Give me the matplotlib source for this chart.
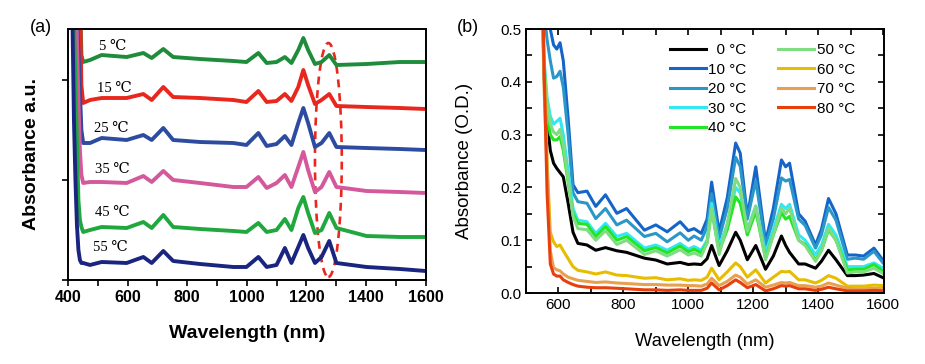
import matplotlib
matplotlib.use("Agg")
import matplotlib.pyplot as plt
from matplotlib.patches import Ellipse
from matplotlib.ticker import MultipleLocator

plt.rcParams['font.family'] = ['Liberation Sans', 'DejaVu Sans']

# ---------------- panel (a): offset spectra ----------------
wl_a = [415, 420, 425, 430, 435, 440, 445, 451, 474, 513, 597, 653, 681, 720, 753, 843,
        955, 999, 1039, 1067, 1100, 1128, 1150, 1173, 1190, 1206, 1229, 1251, 1277, 1301,
        1402, 1514, 1600]
abs_5 = [3.0, 3.0, 3.0, 3.0, 3.0, 2.9, 2.25, 2.18, 2.20, 2.25, 2.23, 2.27, 2.22, 2.31, 2.23, 2.21,
         2.19, 2.18, 2.27, 2.17, 2.18, 2.23, 2.17, 2.30, 2.42, 2.30, 2.16, 2.18, 2.25, 2.15,
         2.16, 2.18, 2.18]
abs_15 = [3.0, 3.0, 3.0, 3.0, 3.0, 2.9, 1.95, 1.77, 1.80, 1.82, 1.82, 1.86, 1.80, 1.93, 1.83, 1.82,
          1.80, 1.78, 1.89, 1.78, 1.79, 1.86, 1.79, 1.93, 2.10, 1.95, 1.76, 1.80, 1.86, 1.74,
          1.73, 1.72, 1.71]
abs_25 = [3.0, 3.0, 3.0, 2.6, 2.3, 1.9, 1.5, 1.37, 1.37, 1.42, 1.40, 1.45, 1.40, 1.52, 1.40, 1.38,
          1.37, 1.35, 1.47, 1.34, 1.36, 1.44, 1.35, 1.57, 1.72, 1.57, 1.33, 1.37, 1.47, 1.33,
          1.32, 1.31, 1.30]
abs_35 = [3.0, 3.0, 3.0, 2.4, 1.8, 1.3, 1.05, 0.97, 0.98, 0.98, 0.97, 1.04, 0.98, 1.09, 1.00, 0.97,
          0.93, 0.93, 1.03, 0.92, 0.97, 1.05, 0.93, 1.13, 1.28, 1.10, 0.88, 0.93, 1.08, 0.93,
          0.89, 0.88, 0.87]
abs_45 = [3.0, 2.6, 2.0, 1.4, 0.8, 0.6, 0.53, 0.48, 0.50, 0.53, 0.52, 0.58, 0.52, 0.65, 0.53, 0.51,
          0.49, 0.48, 0.57, 0.48, 0.50, 0.61, 0.50, 0.72, 0.83, 0.67, 0.47, 0.50, 0.67, 0.52,
          0.44, 0.43, 0.43]
abs_55 = [2.6, 1.6, 1.0, 0.55, 0.3, 0.2, 0.17, 0.17, 0.15, 0.18, 0.17, 0.23, 0.17, 0.29, 0.19, 0.16,
          0.13, 0.13, 0.23, 0.13, 0.15, 0.32, 0.17, 0.33, 0.45, 0.32, 0.17, 0.23, 0.39, 0.17,
          0.13, 0.11, 0.09]
labels_a = ['5 ℃', '15 ℃', '25 ℃', '35 ℃', '45 ℃', '55 ℃']
label_x_a = [505, 497, 487, 490, 490, 483]
label_y_a = [2.34, 1.92, 1.52, 1.10, 0.67, 0.32]
colors_a = ['#1f8c3b', '#e8281e', '#2d4ca0', '#d4589c', '#20a83e', '#1a2580']

# highlighted band around the 1275 nm peak
ell_center = (1274, 1.20)
ell_w, ell_h = 90, 2.34

# ---------------- panel (b): absorbance vs temperature ----------------
wl_b = [545, 555, 565, 575, 585, 595, 605, 615, 630, 645, 660, 688, 715, 745, 780, 810, 865, 900,
        935, 975, 1000, 1018, 1040, 1058, 1072, 1095, 1120, 1146, 1160, 1182, 1208, 1238, 1262,
        1287, 1300, 1312, 1340, 1360, 1392, 1410, 1432, 1455, 1490, 1515, 1540, 1572, 1600]
od_0 = [0.8, 0.42, 0.328, 0.27, 0.246, 0.236, 0.228, 0.22, 0.17, 0.115, 0.094, 0.091, 0.081, 0.086,
        0.08, 0.077, 0.066, 0.0625, 0.055, 0.058, 0.054, 0.055, 0.054, 0.065, 0.09, 0.052, 0.08,
        0.115, 0.10, 0.063, 0.09, 0.045, 0.07, 0.108, 0.09, 0.077, 0.055, 0.055, 0.047, 0.06,
        0.081, 0.063, 0.033, 0.033, 0.034, 0.037, 0.029]
od_10 = [0.75, 0.65, 0.56, 0.50, 0.47, 0.462, 0.474, 0.44, 0.33, 0.205, 0.19, 0.193, 0.164, 0.186,
         0.151, 0.16, 0.119, 0.129, 0.116, 0.135, 0.118, 0.122, 0.113, 0.14, 0.21, 0.116, 0.18,
         0.284, 0.265, 0.145, 0.239, 0.097, 0.16, 0.252, 0.239, 0.246, 0.15, 0.136, 0.091, 0.12,
         0.179, 0.15, 0.072, 0.072, 0.07, 0.085, 0.062]
od_20 = [0.75, 0.54, 0.48, 0.44, 0.407, 0.41, 0.42, 0.39, 0.30, 0.19, 0.173, 0.17, 0.141, 0.16,
         0.129, 0.138, 0.107, 0.113, 0.097, 0.114, 0.10, 0.108, 0.10, 0.125, 0.188, 0.103, 0.16,
         0.257, 0.24, 0.14, 0.213, 0.09, 0.14, 0.218, 0.212, 0.215, 0.14, 0.128, 0.085, 0.11,
         0.162, 0.138, 0.064, 0.066, 0.064, 0.079, 0.057]
od_30 = [0.8, 0.45, 0.37, 0.335, 0.32, 0.325, 0.331, 0.30, 0.23, 0.16, 0.138, 0.135, 0.113, 0.132,
         0.107, 0.113, 0.085, 0.091, 0.081, 0.094, 0.083, 0.088, 0.081, 0.10, 0.17, 0.088, 0.13,
         0.20, 0.19, 0.12, 0.165, 0.076, 0.12, 0.168, 0.16, 0.168, 0.11, 0.10, 0.073, 0.09,
         0.13, 0.11, 0.05, 0.05, 0.05, 0.057, 0.047]
od_40 = [0.8, 0.43, 0.34, 0.30, 0.29, 0.29, 0.296, 0.27, 0.21, 0.15, 0.132, 0.13, 0.107, 0.126,
         0.10, 0.107, 0.08, 0.086, 0.076, 0.089, 0.078, 0.083, 0.076, 0.095, 0.158, 0.079, 0.12,
         0.182, 0.17, 0.11, 0.155, 0.066, 0.11, 0.152, 0.14, 0.145, 0.10, 0.092, 0.063, 0.08,
         0.12, 0.10, 0.044, 0.045, 0.045, 0.054, 0.041]
od_50 = [0.8, 0.44, 0.36, 0.32, 0.305, 0.30, 0.31, 0.28, 0.215, 0.145, 0.122, 0.12, 0.10, 0.118,
         0.092, 0.10, 0.073, 0.08, 0.07, 0.082, 0.072, 0.076, 0.07, 0.095, 0.161, 0.073, 0.13,
         0.217, 0.20, 0.117, 0.164, 0.063, 0.11, 0.161, 0.15, 0.161, 0.10, 0.09, 0.06, 0.08,
         0.123, 0.10, 0.038, 0.04, 0.04, 0.047, 0.037]
od_60 = [0.7, 0.45, 0.25, 0.115, 0.097, 0.088, 0.091, 0.08, 0.065, 0.05, 0.043, 0.04, 0.036, 0.04,
         0.034, 0.033, 0.028, 0.029, 0.025, 0.027, 0.024, 0.025, 0.024, 0.03, 0.047, 0.025, 0.04,
         0.057, 0.05, 0.03, 0.044, 0.019, 0.03, 0.041, 0.04, 0.041, 0.025, 0.025, 0.019, 0.024,
         0.033, 0.028, 0.013, 0.013, 0.013, 0.015, 0.014]
od_70 = [0.8, 0.4, 0.24, 0.08, 0.048, 0.044, 0.042, 0.036, 0.03, 0.027, 0.024, 0.022, 0.02, 0.021,
         0.019, 0.018, 0.016, 0.016, 0.015, 0.015, 0.014, 0.014, 0.013, 0.017, 0.028, 0.014, 0.022,
         0.034, 0.03, 0.017, 0.025, 0.011, 0.015, 0.02, 0.019, 0.02, 0.014, 0.014, 0.011, 0.013,
         0.019, 0.015, 0.009, 0.008, 0.008, 0.009, 0.008]
od_80 = [0.9, 0.45, 0.19, 0.055, 0.036, 0.032, 0.032, 0.025, 0.02, 0.016, 0.013, 0.011, 0.01, 0.01,
         0.009, 0.008, 0.006, 0.006, 0.005, 0.006, 0.005, 0.005, 0.005, 0.009, 0.019, 0.006, 0.014,
         0.025, 0.02, 0.01, 0.016, 0.004, 0.008, 0.014, 0.013, 0.014, 0.008, 0.008, 0.005, 0.007,
         0.011, 0.008, 0.004, 0.004, 0.004, 0.005, 0.004]
labels_b = ['  0 °C', '10 °C', '20 °C', '30 °C', '40 °C', '50 °C', '60 °C', '70 °C', '80 °C']
colors_b = ['#000000', '#1565c8', '#2b97c9', '#33e8f2', '#22e622', '#80dc80', '#e6bd00',
            '#e8a050', '#e8400c']

fig = plt.figure(figsize=(9.25, 3.64), dpi=100)

# ---- (a)
ax1 = fig.add_axes([0.0735, 0.2308, 0.3865, 0.6895])
for y, c in zip([abs_5, abs_15, abs_25, abs_35, abs_45, abs_55], colors_a):
    ax1.plot(wl_a, y, color=c, lw=2.8, solid_joinstyle='round')
for t, x, y in zip(labels_a, label_x_a, label_y_a):
    ax1.text(x, y, t, fontsize=10.5, va='center', ha='left',
             family=['Liberation Serif', 'DejaVu Serif'])
ax1.add_patch(Ellipse(ell_center, ell_w, ell_h, fill=False, edgecolor='#e8281e',
                      lw=1.9, linestyle=(0, (3, 2.2))))
ax1.set_xlim(400, 1600)
ax1.set_ylim(0, 2.51)
ax1.set_yticks([0, 1, 2])
ax1.set_yticklabels([])
ax1.xaxis.set_major_locator(MultipleLocator(200))
ax1.xaxis.set_minor_locator(MultipleLocator(100))
ax1.tick_params(axis='both', which='both', direction='out', length=4, width=1.2)
for lab in ax1.get_xticklabels():
    lab.set_fontweight('bold')
    lab.set_fontsize(11.5)
for s in ax1.spines.values():
    s.set_linewidth(1.4)
ax1.set_xlabel('Wavelength (nm)', fontsize=14, fontweight='bold')
ax1.set_ylabel('Absorbance a.u.', fontsize=14, fontweight='bold')
ax1.xaxis.set_label_coords(0.5, -0.179)
ax1.yaxis.set_label_coords(-0.078, 0.5)
fig.text(0.044, 0.925, '(a)', fontsize=13, ha='center', va='center')

# ---- (b)
ax2 = fig.add_axes([0.5686, 0.195, 0.3871, 0.7253])
series_b = [od_0, od_10, od_20, od_30, od_40, od_50, od_60, od_70, od_80]
for y, c, l in zip(series_b, colors_b, labels_b):
    ax2.plot(wl_b, y, color=c, lw=2.2, label=l, solid_joinstyle='round')
ax2.set_xlim(500, 1603)
ax2.set_ylim(0, 0.5)
ax2.xaxis.set_major_locator(MultipleLocator(200))
ax2.xaxis.set_minor_locator(MultipleLocator(100))
ax2.yaxis.set_major_locator(MultipleLocator(0.1))
ax2.yaxis.set_minor_locator(MultipleLocator(0.05))
ax2.tick_params(axis='both', which='both', direction='in', length=4, width=1.2,
                top=True, right=True, labelsize=11)
for s in ax2.spines.values():
    s.set_linewidth(1.4)
ax2.set_xlabel('Wavelength (nm)', fontsize=13.2)
ax2.set_ylabel('Absorbance (O.D.)', fontsize=13.5)
ax2.xaxis.set_label_coords(0.5, -0.152)
ax2.yaxis.set_label_coords(-0.148, 0.5)
ax2.legend(ncol=2, frameon=False, fontsize=11, loc='upper left',
           bbox_to_anchor=(0.385, 0.97), handlelength=2.35, handletextpad=0.15,
           columnspacing=2.1, labelspacing=0.36, borderaxespad=0)
fig.text(0.506, 0.925, '(b)', fontsize=13, ha='center', va='center')

fig.savefig('out.png', dpi=100)
